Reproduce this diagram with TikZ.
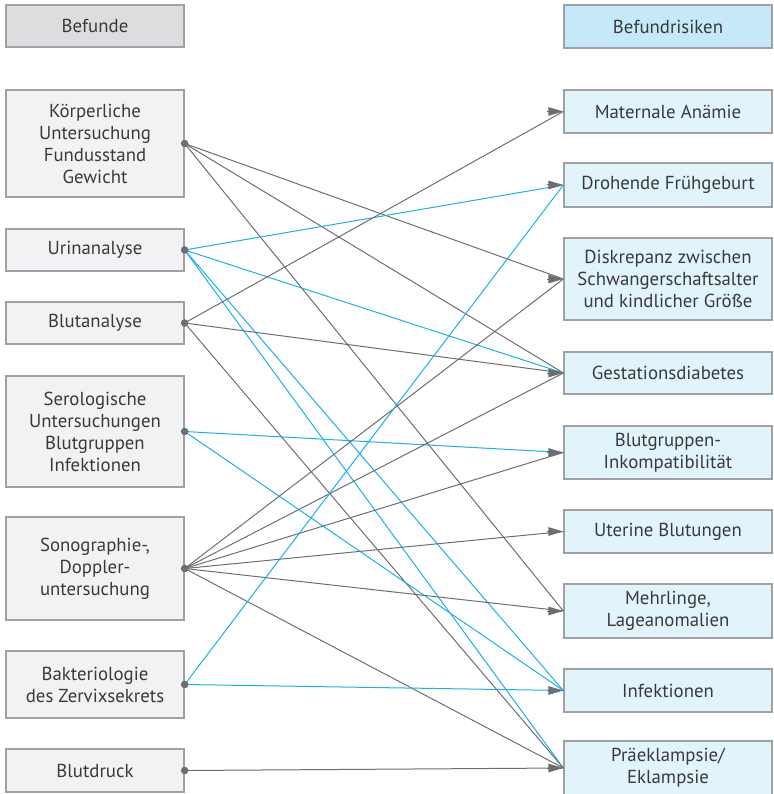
\documentclass[tikz,border=0pt]{standalone}
\usepackage{fontspec}
\setmainfont{PT Sans}
\usetikzlibrary{arrows.meta}
\definecolor{linegray}{HTML}{6D6E71}
\definecolor{lineblue}{HTML}{1AB1E6}
\definecolor{boxline}{HTML}{9FA1A4}
\definecolor{leftfill}{HTML}{F1F2F3}
\definecolor{lefthead}{HTML}{DCDDDF}
\definecolor{rightfill}{HTML}{E1F3FB}
\definecolor{righthead}{HTML}{C5E9F8}
\definecolor{txt}{HTML}{3A3A3C}

\begin{document}
\begin{tikzpicture}[x=1pt, y=-1pt,
    befund/.style = {draw=boxline, line width=1.3pt, fill=leftfill, text=txt, minimum width=178pt,
                     align=center, inner sep=0pt, font=\fontsize{18.8}{22}\selectfont},
    risiko/.style = {befund, fill=rightfill, minimum width=208pt},
    grayline/.style = {linegray, line width=1pt},
    blueline/.style = {lineblue, line width=1pt},
    arrhead/.style = {-{Triangle[length=15pt, width=8.5pt]}, linegray, line width=1pt},
    dot/.style = {linegray}]
    \useasboundingbox (0,0) rectangle (773,794);
    % left column
    \node[befund, fill=lefthead, minimum height=42pt] (l0) at (95,26) {Befunde};
    \node[befund, minimum height=107pt] (l1) at (95,143.5) {Körperliche\\Untersuchung\\Fundusstand\\Gewicht};
    \node[befund, minimum height=42pt] (l2) at (95,250) {Urinanalyse};
    \node[befund, minimum height=42pt] (l3) at (95,323) {Blutanalyse};
    \node[befund, minimum height=111pt] (l4) at (95,431.5) {Serologische\\Untersuchungen\\Blutgruppen\\Infektionen};
    \node[befund, minimum height=103pt] (l5) at (95,568.5) {Sonographie-,\\Doppler-\\untersuchung};
    \node[befund, minimum height=67pt] (l6) at (95,684.5) {Bakteriologie\\des Zervixsekrets};
    \node[befund, minimum height=43pt] (l7) at (95,770.5) {Blutdruck};
    % right column
    \node[risiko, fill=righthead, minimum height=43pt] (r0) at (668,26.5) {Befundrisiken};
    \node[risiko, minimum height=43pt] (r1) at (668,111.5) {Maternale Anämie};
    \node[risiko, minimum height=44pt] (r2) at (668,185) {Drohende Frühgeburt};
    \node[risiko, minimum height=82pt] (r3) at (668,279) {Diskrepanz zwischen\\Schwangerschaftsalter\\und kindlicher Größe};
    \node[risiko, minimum height=42pt] (r4) at (668,373) {Gestationsdiabetes};
    \node[risiko, minimum height=53pt] (r5) at (668,452.5) {Blutgruppen-\\Inkompatibilität};
    \node[risiko, minimum height=43pt] (r6) at (668,531.5) {Uterine Blutungen};
    \node[risiko, minimum height=54pt] (r7) at (668,611) {Mehrlinge,\\Lageanomalien};
    \node[risiko, minimum height=43pt] (r8) at (668,690.5) {Infektionen};
    \node[risiko, minimum height=54pt] (r9) at (668,768) {Präeklampsie/\\Eklampsie};
    % connections
    \draw[grayline] (l1.east) -- (r3.west);
    \draw[grayline] (l1.east) -- (r4.west);
    \draw[grayline] (l1.east) -- (r7.west);
    \draw[blueline] (l2.east) -- (r2.west);
    \draw[blueline] (l2.east) -- (r4.west);
    \draw[blueline] (l2.east) -- (r8.west);
    \draw[blueline] (l2.east) -- (r9.west);
    \draw[grayline] (l3.east) -- (r1.west);
    \draw[grayline] (l3.east) -- (r4.west);
    \draw[grayline] (l3.east) -- (r9.west);
    \draw[blueline] (l4.east) -- (r5.west);
    \draw[blueline] (l4.east) -- (r8.west);
    \draw[grayline] (l5.east) -- (r3.west);
    \draw[grayline] (l5.east) -- (r4.west);
    \draw[grayline] (l5.east) -- (r5.west);
    \draw[grayline] (l5.east) -- (r6.west);
    \draw[grayline] (l5.east) -- (r7.west);
    \draw[grayline] (l5.east) -- (r9.west);
    \draw[blueline] (l6.east) -- (r2.west);
    \draw[blueline] (l6.east) -- (r8.west);
    \draw[grayline] (l7.east) -- (r9.west);
    % arrow heads
    \draw[arrhead] ([xshift=-16pt]r1.west) -- (r1.west);
    \draw[arrhead] ([xshift=-16pt]r2.west) -- (r2.west);
    \draw[arrhead] ([xshift=-16pt]r3.west) -- (r3.west);
    \draw[arrhead] ([xshift=-16pt]r4.west) -- (r4.west);
    \draw[arrhead] ([xshift=-16pt]r5.west) -- (r5.west);
    \draw[arrhead] ([xshift=-16pt]r6.west) -- (r6.west);
    \draw[arrhead] ([xshift=-16pt]r7.west) -- (r7.west);
    \draw[arrhead] ([xshift=-16pt]r8.west) -- (r8.west);
    \draw[arrhead] ([xshift=-16pt]r9.west) -- (r9.west);
    % dots
    \fill[dot] (l1.east) circle (3.8pt);
    \fill[dot] (l2.east) circle (3.8pt);
    \fill[dot] (l3.east) circle (3.8pt);
    \fill[dot] (l4.east) circle (3.8pt);
    \fill[dot] (l5.east) circle (3.8pt);
    \fill[dot] (l6.east) circle (3.8pt);
    \fill[dot] (l7.east) circle (3.8pt);
\end{tikzpicture}
\end{document}
